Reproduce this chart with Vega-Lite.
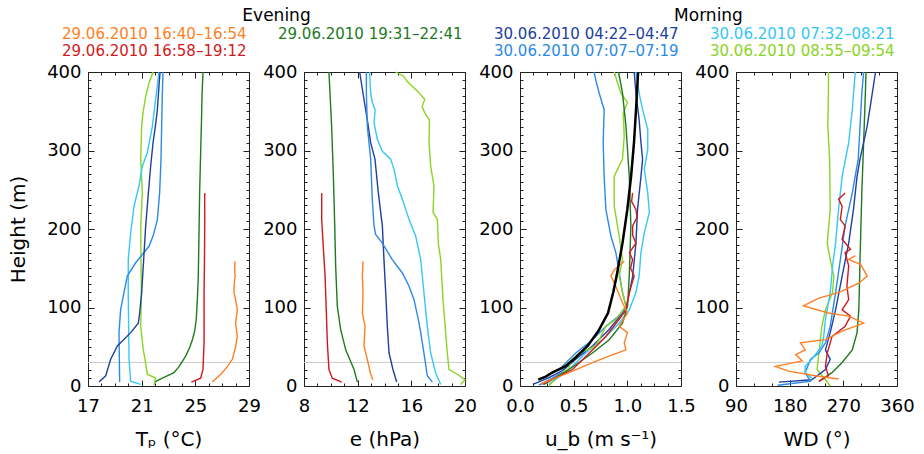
{
  "$schema": "https://vega.github.io/schema/vega-lite/v6.json",
  "background": "white",
  "padding": {"left": 8, "top": 6, "right": 9, "bottom": 5},
  "config": {
    "font": "DejaVu Sans",
    "view": {"stroke": "#222222", "strokeWidth": 1},
    "axis": {"domain": false, "grid": false, "tickColor": "#222222", "tickWidth": 1, "labelColor": "black", "titleColor": "black", "labelFont": "DejaVu Sans", "labelFontSize": 18, "titleFont": "DejaVu Sans", "titleFontSize": 20, "titleFontWeight": "normal", "labelOverlap": false, "labelFlush": false, "labelBound": false},
    "title": {"font": "DejaVu Sans", "fontSize": 17, "fontWeight": "normal", "color": "black", "anchor": "middle", "frame": "group", "offset": 38.5, "dx": 108},
    "line": {"strokeWidth": 1.4}
  },
  "datasets": {
    "tp": [
      {"s":"29.06.2010 16:40–16:54","h":5,"x":26.27},{"s":"29.06.2010 16:40–16:54","h":15,"x":26.9},{"s":"29.06.2010 16:40–16:54","h":25,"x":27.4},{"s":"29.06.2010 16:40–16:54","h":34,"x":27.76},{"s":"29.06.2010 16:40–16:54","h":50,"x":28.0},{"s":"29.06.2010 16:40–16:54","h":63,"x":28.13},{"s":"29.06.2010 16:40–16:54","h":80,"x":28.0},{"s":"29.06.2010 16:40–16:54","h":97,"x":28.13},{"s":"29.06.2010 16:40–16:54","h":110,"x":28.0},{"s":"29.06.2010 16:40–16:54","h":119,"x":27.88},{"s":"29.06.2010 16:40–16:54","h":130,"x":27.9},{"s":"29.06.2010 16:40–16:54","h":140,"x":27.96},{"s":"29.06.2010 16:40–16:54","h":150,"x":27.93},{"s":"29.06.2010 16:40–16:54","h":159,"x":27.96},
      {"s":"29.06.2010 16:58–19:12","h":5,"x":24.7},{"s":"29.06.2010 16:58–19:12","h":10,"x":25.4},{"s":"29.06.2010 16:58–19:12","h":21,"x":25.57},{"s":"29.06.2010 16:58–19:12","h":55,"x":25.65},{"s":"29.06.2010 16:58–19:12","h":119,"x":25.65},{"s":"29.06.2010 16:58–19:12","h":160,"x":25.68},{"s":"29.06.2010 16:58–19:12","h":204,"x":25.7},{"s":"29.06.2010 16:58–19:12","h":246,"x":25.7},
      {"s":"29.06.2010 19:31–22:41","h":5,"x":21.97},{"s":"29.06.2010 19:31–22:41","h":9,"x":22.42},{"s":"29.06.2010 19:31–22:41","h":13,"x":22.9},{"s":"29.06.2010 19:31–22:41","h":17,"x":23.41},{"s":"29.06.2010 19:31–22:41","h":25,"x":23.8},{"s":"29.06.2010 19:31–22:41","h":38,"x":24.28},{"s":"29.06.2010 19:31–22:41","h":50,"x":24.6},{"s":"29.06.2010 19:31–22:41","h":59,"x":24.78},{"s":"29.06.2010 19:31–22:41","h":70,"x":24.95},{"s":"29.06.2010 19:31–22:41","h":85,"x":25.07},{"s":"29.06.2010 19:31–22:41","h":110,"x":25.15},{"s":"29.06.2010 19:31–22:41","h":140,"x":25.22},{"s":"29.06.2010 19:31–22:41","h":200,"x":25.28},{"s":"29.06.2010 19:31–22:41","h":246,"x":25.32},{"s":"29.06.2010 19:31–22:41","h":300,"x":25.4},{"s":"29.06.2010 19:31–22:41","h":331,"x":25.45},{"s":"29.06.2010 19:31–22:41","h":370,"x":25.5},{"s":"29.06.2010 19:31–22:41","h":400,"x":25.57},
      {"s":"30.06.2010 08:55–09:54","h":1,"x":21.92},{"s":"30.06.2010 08:55–09:54","h":10,"x":22.04},{"s":"30.06.2010 08:55–09:54","h":15,"x":21.42},{"s":"30.06.2010 08:55–09:54","h":34,"x":21.25},{"s":"30.06.2010 08:55–09:54","h":46,"x":21.12},{"s":"30.06.2010 08:55–09:54","h":76,"x":20.93},{"s":"30.06.2010 08:55–09:54","h":119,"x":20.98},{"s":"30.06.2010 08:55–09:54","h":160,"x":20.95},{"s":"30.06.2010 08:55–09:54","h":204,"x":20.93},{"s":"30.06.2010 08:55–09:54","h":246,"x":21.05},{"s":"30.06.2010 08:55–09:54","h":289,"x":20.93},{"s":"30.06.2010 08:55–09:54","h":331,"x":21.0},{"s":"30.06.2010 08:55–09:54","h":348,"x":21.1},{"s":"30.06.2010 08:55–09:54","h":369,"x":21.3},{"s":"30.06.2010 08:55–09:54","h":386,"x":21.55},{"s":"30.06.2010 08:55–09:54","h":400,"x":21.85},
      {"s":"30.06.2010 07:32–08:21","h":2,"x":20.93},{"s":"30.06.2010 07:32–08:21","h":6,"x":20.18},{"s":"30.06.2010 07:32–08:21","h":34,"x":20.06},{"s":"30.06.2010 07:32–08:21","h":119,"x":20.0},{"s":"30.06.2010 07:32–08:21","h":161,"x":20.0},{"s":"30.06.2010 07:32–08:21","h":195,"x":20.18},{"s":"30.06.2010 07:32–08:21","h":229,"x":20.43},{"s":"30.06.2010 07:32–08:21","h":255,"x":20.8},{"s":"30.06.2010 07:32–08:21","h":280,"x":21.05},{"s":"30.06.2010 07:32–08:21","h":297,"x":21.42},{"s":"30.06.2010 07:32–08:21","h":331,"x":21.8},{"s":"30.06.2010 07:32–08:21","h":365,"x":22.04},{"s":"30.06.2010 07:32–08:21","h":400,"x":22.29},
      {"s":"30.06.2010 07:07–07:19","h":5,"x":19.36},{"s":"30.06.2010 07:07–07:19","h":68,"x":19.31},{"s":"30.06.2010 07:07–07:19","h":97,"x":19.43},{"s":"30.06.2010 07:07–07:19","h":119,"x":19.68},{"s":"30.06.2010 07:07–07:19","h":140,"x":19.93},{"s":"30.06.2010 07:07–07:19","h":157,"x":20.55},{"s":"30.06.2010 07:07–07:19","h":178,"x":21.55},{"s":"30.06.2010 07:07–07:19","h":191,"x":21.85},{"s":"30.06.2010 07:07–07:19","h":212,"x":22.17},{"s":"30.06.2010 07:07–07:19","h":246,"x":22.34},{"s":"30.06.2010 07:07–07:19","h":289,"x":22.44},{"s":"30.06.2010 07:07–07:19","h":331,"x":22.49},{"s":"30.06.2010 07:07–07:19","h":373,"x":22.54},{"s":"30.06.2010 07:07–07:19","h":400,"x":22.59},
      {"s":"30.06.2010 04:22–04:47","h":5,"x":17.82},{"s":"30.06.2010 04:22–04:47","h":13,"x":18.32},{"s":"30.06.2010 04:22–04:47","h":34,"x":18.69},{"s":"30.06.2010 04:22–04:47","h":51,"x":19.19},{"s":"30.06.2010 04:22–04:47","h":68,"x":20.18},{"s":"30.06.2010 04:22–04:47","h":80,"x":20.75},{"s":"30.06.2010 04:22–04:47","h":93,"x":20.85},{"s":"30.06.2010 04:22–04:47","h":119,"x":21.0},{"s":"30.06.2010 04:22–04:47","h":204,"x":21.3},{"s":"30.06.2010 04:22–04:47","h":246,"x":21.5},{"s":"30.06.2010 04:22–04:47","h":280,"x":21.67},{"s":"30.06.2010 04:22–04:47","h":310,"x":21.85},{"s":"30.06.2010 04:22–04:47","h":333,"x":22.04},{"s":"30.06.2010 04:22–04:47","h":352,"x":22.17},{"s":"30.06.2010 04:22–04:47","h":382,"x":22.29},{"s":"30.06.2010 04:22–04:47","h":400,"x":22.37}
    ],
    "e": [
      {"s":"29.06.2010 16:58–19:12","h":5,"x":10.81},{"s":"29.06.2010 16:58–19:12","h":10,"x":10.11},{"s":"29.06.2010 16:58–19:12","h":21,"x":9.86},{"s":"29.06.2010 16:58–19:12","h":55,"x":9.74},{"s":"29.06.2010 16:58–19:12","h":97,"x":9.66},{"s":"29.06.2010 16:58–19:12","h":140,"x":9.57},{"s":"29.06.2010 16:58–19:12","h":182,"x":9.42},{"s":"29.06.2010 16:58–19:12","h":212,"x":9.32},{"s":"29.06.2010 16:58–19:12","h":246,"x":9.32},
      {"s":"29.06.2010 19:31–22:41","h":5,"x":11.98},{"s":"29.06.2010 19:31–22:41","h":21,"x":11.73},{"s":"29.06.2010 19:31–22:41","h":46,"x":11.11},{"s":"29.06.2010 19:31–22:41","h":72,"x":10.73},{"s":"29.06.2010 19:31–22:41","h":102,"x":10.48},{"s":"29.06.2010 19:31–22:41","h":153,"x":10.36},{"s":"29.06.2010 19:31–22:41","h":204,"x":10.29},{"s":"29.06.2010 19:31–22:41","h":267,"x":10.19},{"s":"29.06.2010 19:31–22:41","h":331,"x":10.06},{"s":"29.06.2010 19:31–22:41","h":400,"x":9.86},
      {"s":"29.06.2010 16:40–16:54","h":8,"x":13.14},{"s":"29.06.2010 16:40–16:54","h":15,"x":12.97},{"s":"29.06.2010 16:40–16:54","h":34,"x":12.72},{"s":"29.06.2010 16:40–16:54","h":51,"x":12.47},{"s":"29.06.2010 16:40–16:54","h":76,"x":12.55},{"s":"29.06.2010 16:40–16:54","h":93,"x":12.35},{"s":"29.06.2010 16:40–16:54","h":119,"x":12.4},{"s":"29.06.2010 16:40–16:54","h":140,"x":12.35},{"s":"29.06.2010 16:40–16:54","h":159,"x":12.4},
      {"s":"30.06.2010 04:22–04:47","h":5,"x":14.91},{"s":"30.06.2010 04:22–04:47","h":21,"x":14.63},{"s":"30.06.2010 04:22–04:47","h":42,"x":14.34},{"s":"30.06.2010 04:22–04:47","h":76,"x":14.21},{"s":"30.06.2010 04:22–04:47","h":119,"x":14.09},{"s":"30.06.2010 04:22–04:47","h":161,"x":13.96},{"s":"30.06.2010 04:22–04:47","h":204,"x":13.84},{"s":"30.06.2010 04:22–04:47","h":246,"x":13.54},{"s":"30.06.2010 04:22–04:47","h":289,"x":13.29},{"s":"30.06.2010 04:22–04:47","h":310,"x":12.97},{"s":"30.06.2010 04:22–04:47","h":339,"x":12.72},{"s":"30.06.2010 04:22–04:47","h":365,"x":12.47},{"s":"30.06.2010 04:22–04:47","h":400,"x":12.15},
      {"s":"30.06.2010 07:07–07:19","h":5,"x":17.57},{"s":"30.06.2010 07:07–07:19","h":13,"x":17.19},{"s":"30.06.2010 07:07–07:19","h":42,"x":16.94},{"s":"30.06.2010 07:07–07:19","h":68,"x":16.7},{"s":"30.06.2010 07:07–07:19","h":85,"x":16.52},{"s":"30.06.2010 07:07–07:19","h":110,"x":16.2},{"s":"30.06.2010 07:07–07:19","h":127,"x":15.83},{"s":"30.06.2010 07:07–07:19","h":144,"x":15.33},{"s":"30.06.2010 07:07–07:19","h":161,"x":14.58},{"s":"30.06.2010 07:07–07:19","h":182,"x":13.84},{"s":"30.06.2010 07:07–07:19","h":193,"x":13.34},{"s":"30.06.2010 07:07–07:19","h":204,"x":13.22},{"s":"30.06.2010 07:07–07:19","h":238,"x":13.09},{"s":"30.06.2010 07:07–07:19","h":289,"x":12.97},{"s":"30.06.2010 07:07–07:19","h":331,"x":12.72},{"s":"30.06.2010 07:07–07:19","h":373,"x":12.65},{"s":"30.06.2010 07:07–07:19","h":400,"x":12.65},
      {"s":"30.06.2010 07:32–08:21","h":2,"x":18.19},{"s":"30.06.2010 07:32–08:21","h":17,"x":17.81},{"s":"30.06.2010 07:32–08:21","h":42,"x":17.44},{"s":"30.06.2010 07:32–08:21","h":76,"x":17.19},{"s":"30.06.2010 07:32–08:21","h":119,"x":16.94},{"s":"30.06.2010 07:32–08:21","h":161,"x":16.7},{"s":"30.06.2010 07:32–08:21","h":191,"x":16.32},{"s":"30.06.2010 07:32–08:21","h":212,"x":15.83},{"s":"30.06.2010 07:32–08:21","h":238,"x":15.33},{"s":"30.06.2010 07:32–08:21","h":255,"x":14.96},{"s":"30.06.2010 07:32–08:21","h":276,"x":14.71},{"s":"30.06.2010 07:32–08:21","h":289,"x":14.46},{"s":"30.06.2010 07:32–08:21","h":299,"x":13.84},{"s":"30.06.2010 07:32–08:21","h":314,"x":13.47},{"s":"30.06.2010 07:32–08:21","h":335,"x":13.22},{"s":"30.06.2010 07:32–08:21","h":352,"x":13.3},{"s":"30.06.2010 07:32–08:21","h":361,"x":13.09},{"s":"30.06.2010 07:32–08:21","h":373,"x":12.97},{"s":"30.06.2010 07:32–08:21","h":400,"x":12.89},
      {"s":"30.06.2010 08:55–09:54","h":2,"x":19.68},{"s":"30.06.2010 08:55–09:54","h":8,"x":20.0},{"s":"30.06.2010 08:55–09:54","h":15,"x":19.43},{"s":"30.06.2010 08:55–09:54","h":21,"x":18.81},{"s":"30.06.2010 08:55–09:54","h":42,"x":18.68},{"s":"30.06.2010 08:55–09:54","h":68,"x":18.56},{"s":"30.06.2010 08:55–09:54","h":110,"x":18.36},{"s":"30.06.2010 08:55–09:54","h":161,"x":18.19},{"s":"30.06.2010 08:55–09:54","h":182,"x":18.01},{"s":"30.06.2010 08:55–09:54","h":212,"x":17.94},{"s":"30.06.2010 08:55–09:54","h":221,"x":17.62},{"s":"30.06.2010 08:55–09:54","h":255,"x":17.69},{"s":"30.06.2010 08:55–09:54","h":280,"x":17.44},{"s":"30.06.2010 08:55–09:54","h":310,"x":17.32},{"s":"30.06.2010 08:55–09:54","h":339,"x":17.35},{"s":"30.06.2010 08:55–09:54","h":348,"x":17.0},{"s":"30.06.2010 08:55–09:54","h":356,"x":16.8},{"s":"30.06.2010 08:55–09:54","h":365,"x":17.0},{"s":"30.06.2010 08:55–09:54","h":375,"x":16.5},{"s":"30.06.2010 08:55–09:54","h":388,"x":15.7},{"s":"30.06.2010 08:55–09:54","h":395,"x":15.4},{"s":"30.06.2010 08:55–09:54","h":400,"x":14.83}
    ],
    "ub": [
      {"s":"30.06.2010 04:22–04:47","h":2,"x":0.12},{"s":"30.06.2010 04:22–04:47","h":10,"x":0.26},{"s":"30.06.2010 04:22–04:47","h":20,"x":0.4},{"s":"30.06.2010 04:22–04:47","h":34,"x":0.52},{"s":"30.06.2010 04:22–04:47","h":51,"x":0.675},{"s":"30.06.2010 04:22–04:47","h":72,"x":0.83},{"s":"30.06.2010 04:22–04:47","h":93,"x":0.955},{"s":"30.06.2010 04:22–04:47","h":106,"x":1.0},{"s":"30.06.2010 04:22–04:47","h":140,"x":1.05},{"s":"30.06.2010 04:22–04:47","h":182,"x":1.08},{"s":"30.06.2010 04:22–04:47","h":225,"x":1.095},{"s":"30.06.2010 04:22–04:47","h":267,"x":1.127},{"s":"30.06.2010 04:22–04:47","h":289,"x":1.142},{"s":"30.06.2010 04:22–04:47","h":310,"x":1.127},{"s":"30.06.2010 04:22–04:47","h":339,"x":1.11},{"s":"30.06.2010 04:22–04:47","h":373,"x":1.08},{"s":"30.06.2010 04:22–04:47","h":400,"x":1.064},
      {"s":"30.06.2010 07:07–07:19","h":1,"x":0.177},{"s":"30.06.2010 07:07–07:19","h":10,"x":0.3},{"s":"30.06.2010 07:07–07:19","h":17,"x":0.39},{"s":"30.06.2010 07:07–07:19","h":25,"x":0.395},{"s":"30.06.2010 07:07–07:19","h":42,"x":0.52},{"s":"30.06.2010 07:07–07:19","h":59,"x":0.675},{"s":"30.06.2010 07:07–07:19","h":76,"x":0.8},{"s":"30.06.2010 07:07–07:19","h":93,"x":0.955},{"s":"30.06.2010 07:07–07:19","h":102,"x":0.987},{"s":"30.06.2010 07:07–07:19","h":119,"x":0.955},{"s":"30.06.2010 07:07–07:19","h":170,"x":0.893},{"s":"30.06.2010 07:07–07:19","h":191,"x":0.847},{"s":"30.06.2010 07:07–07:19","h":225,"x":0.8},{"s":"30.06.2010 07:07–07:19","h":267,"x":0.784},{"s":"30.06.2010 07:07–07:19","h":310,"x":0.775},{"s":"30.06.2010 07:07–07:19","h":352,"x":0.784},{"s":"30.06.2010 07:07–07:19","h":373,"x":0.738},{"s":"30.06.2010 07:07–07:19","h":390,"x":0.706},{"s":"30.06.2010 07:07–07:19","h":400,"x":0.69},
      {"s":"30.06.2010 07:32–08:21","h":2,"x":0.27},{"s":"30.06.2010 07:32–08:21","h":21,"x":0.457},{"s":"30.06.2010 07:32–08:21","h":42,"x":0.613},{"s":"30.06.2010 07:32–08:21","h":59,"x":0.769},{"s":"30.06.2010 07:32–08:21","h":80,"x":0.924},{"s":"30.06.2010 07:32–08:21","h":97,"x":1.018},{"s":"30.06.2010 07:32–08:21","h":119,"x":1.08},{"s":"30.06.2010 07:32–08:21","h":140,"x":1.11},{"s":"30.06.2010 07:32–08:21","h":170,"x":1.127},{"s":"30.06.2010 07:32–08:21","h":195,"x":1.158},{"s":"30.06.2010 07:32–08:21","h":221,"x":1.205},{"s":"30.06.2010 07:32–08:21","h":246,"x":1.19},{"s":"30.06.2010 07:32–08:21","h":276,"x":1.158},{"s":"30.06.2010 07:32–08:21","h":301,"x":1.19},{"s":"30.06.2010 07:32–08:21","h":327,"x":1.19},{"s":"30.06.2010 07:32–08:21","h":352,"x":1.142},{"s":"30.06.2010 07:32–08:21","h":373,"x":1.11},{"s":"30.06.2010 07:32–08:21","h":400,"x":1.08},
      {"s":"30.06.2010 08:55–09:54","h":0,"x":0.27},{"s":"30.06.2010 08:55–09:54","h":10,"x":0.33},{"s":"30.06.2010 08:55–09:54","h":23,"x":0.457},{"s":"30.06.2010 08:55–09:54","h":32,"x":0.473},{"s":"30.06.2010 08:55–09:54","h":42,"x":0.55},{"s":"30.06.2010 08:55–09:54","h":47,"x":0.644},{"s":"30.06.2010 08:55–09:54","h":51,"x":0.7},{"s":"30.06.2010 08:55–09:54","h":59,"x":0.738},{"s":"30.06.2010 08:55–09:54","h":76,"x":0.8},{"s":"30.06.2010 08:55–09:54","h":85,"x":0.893},{"s":"30.06.2010 08:55–09:54","h":102,"x":0.987},{"s":"30.06.2010 08:55–09:54","h":119,"x":0.955},{"s":"30.06.2010 08:55–09:54","h":140,"x":0.924},{"s":"30.06.2010 08:55–09:54","h":161,"x":0.955},{"s":"30.06.2010 08:55–09:54","h":191,"x":0.924},{"s":"30.06.2010 08:55–09:54","h":229,"x":0.878},{"s":"30.06.2010 08:55–09:54","h":267,"x":0.878},{"s":"30.06.2010 08:55–09:54","h":289,"x":0.955},{"s":"30.06.2010 08:55–09:54","h":318,"x":0.971},{"s":"30.06.2010 08:55–09:54","h":348,"x":0.962},{"s":"30.06.2010 08:55–09:54","h":361,"x":1.002},{"s":"30.06.2010 08:55–09:54","h":373,"x":0.94},{"s":"30.06.2010 08:55–09:54","h":386,"x":0.909},{"s":"30.06.2010 08:55–09:54","h":400,"x":0.878},
      {"s":"29.06.2010 19:31–22:41","h":2,"x":0.224},{"s":"29.06.2010 19:31–22:41","h":21,"x":0.457},{"s":"29.06.2010 19:31–22:41","h":42,"x":0.675},{"s":"29.06.2010 19:31–22:41","h":59,"x":0.831},{"s":"29.06.2010 19:31–22:41","h":80,"x":0.955},{"s":"29.06.2010 19:31–22:41","h":102,"x":1.002},{"s":"29.06.2010 19:31–22:41","h":140,"x":1.018},{"s":"29.06.2010 19:31–22:41","h":204,"x":1.033},{"s":"29.06.2010 19:31–22:41","h":267,"x":1.018},{"s":"29.06.2010 19:31–22:41","h":331,"x":0.987},{"s":"29.06.2010 19:31–22:41","h":373,"x":0.955},{"s":"29.06.2010 19:31–22:41","h":400,"x":0.918},
      {"s":"29.06.2010 16:58–19:12","h":2,"x":0.209},{"s":"29.06.2010 16:58–19:12","h":21,"x":0.489},{"s":"29.06.2010 16:58–19:12","h":46,"x":0.675},{"s":"29.06.2010 16:58–19:12","h":63,"x":0.8},{"s":"29.06.2010 16:58–19:12","h":85,"x":0.924},{"s":"29.06.2010 16:58–19:12","h":97,"x":0.987},{"s":"29.06.2010 16:58–19:12","h":119,"x":1.018},{"s":"29.06.2010 16:58–19:12","h":140,"x":1.064},{"s":"29.06.2010 16:58–19:12","h":150,"x":1.03},{"s":"29.06.2010 16:58–19:12","h":161,"x":1.049},{"s":"29.06.2010 16:58–19:12","h":170,"x":1.02},{"s":"29.06.2010 16:58–19:12","h":182,"x":1.08},{"s":"29.06.2010 16:58–19:12","h":192,"x":1.05},{"s":"29.06.2010 16:58–19:12","h":204,"x":1.049},{"s":"29.06.2010 16:58–19:12","h":215,"x":1.09},{"s":"29.06.2010 16:58–19:12","h":225,"x":1.08},{"s":"29.06.2010 16:58–19:12","h":235,"x":1.04},{"s":"29.06.2010 16:58–19:12","h":246,"x":1.049},
      {"s":"29.06.2010 16:40–16:54","h":3,"x":0.2},{"s":"29.06.2010 16:40–16:54","h":17,"x":0.457},{"s":"29.06.2010 16:40–16:54","h":30,"x":0.68},{"s":"29.06.2010 16:40–16:54","h":38,"x":0.83},{"s":"29.06.2010 16:40–16:54","h":46,"x":0.987},{"s":"29.06.2010 16:40–16:54","h":55,"x":0.971},{"s":"29.06.2010 16:40–16:54","h":68,"x":1.002},{"s":"29.06.2010 16:40–16:54","h":76,"x":0.924},{"s":"29.06.2010 16:40–16:54","h":93,"x":1.002},{"s":"29.06.2010 16:40–16:54","h":106,"x":0.955},{"s":"29.06.2010 16:40–16:54","h":127,"x":0.893},{"s":"29.06.2010 16:40–16:54","h":140,"x":0.847},{"s":"29.06.2010 16:40–16:54","h":148,"x":0.878},{"s":"29.06.2010 16:40–16:54","h":159,"x":0.971}
    ],
    "fit": [
      {"h":8,"x":0.17},{"h":12,"x":0.24},{"h":17,"x":0.3},{"h":25,"x":0.42},{"h":34,"x":0.5},{"h":51,"x":0.63},{"h":70,"x":0.73},{"h":93,"x":0.82},{"h":120,"x":0.87},{"h":140,"x":0.9},{"h":182,"x":0.955},{"h":225,"x":1.0},{"h":267,"x":1.035},{"h":310,"x":1.062},{"h":350,"x":1.08},{"h":399,"x":1.1}
    ],
    "wd": [
      {"s":"30.06.2010 08:55–09:54","h":0,"x":248},{"s":"30.06.2010 08:55–09:54","h":8,"x":240},{"s":"30.06.2010 08:55–09:54","h":21,"x":226},{"s":"30.06.2010 08:55–09:54","h":42,"x":229},{"s":"30.06.2010 08:55–09:54","h":76,"x":234},{"s":"30.06.2010 08:55–09:54","h":97,"x":240},{"s":"30.06.2010 08:55–09:54","h":119,"x":252},{"s":"30.06.2010 08:55–09:54","h":140,"x":254},{"s":"30.06.2010 08:55–09:54","h":161,"x":248},{"s":"30.06.2010 08:55–09:54","h":182,"x":243},{"s":"30.06.2010 08:55–09:54","h":225,"x":248},{"s":"30.06.2010 08:55–09:54","h":289,"x":247},{"s":"30.06.2010 08:55–09:54","h":331,"x":244},{"s":"30.06.2010 08:55–09:54","h":373,"x":245},{"s":"30.06.2010 08:55–09:54","h":400,"x":245},
      {"s":"29.06.2010 19:31–22:41","h":6,"x":229},{"s":"29.06.2010 19:31–22:41","h":17,"x":251},{"s":"29.06.2010 19:31–22:41","h":30,"x":268},{"s":"29.06.2010 19:31–22:41","h":46,"x":285},{"s":"29.06.2010 19:31–22:41","h":68,"x":293},{"s":"29.06.2010 19:31–22:41","h":97,"x":296},{"s":"29.06.2010 19:31–22:41","h":161,"x":298},{"s":"29.06.2010 19:31–22:41","h":246,"x":301},{"s":"29.06.2010 19:31–22:41","h":310,"x":304},{"s":"29.06.2010 19:31–22:41","h":373,"x":307},{"s":"29.06.2010 19:31–22:41","h":400,"x":308},
      {"s":"30.06.2010 04:22–04:47","h":5,"x":162},{"s":"30.06.2010 04:22–04:47","h":8,"x":217},{"s":"30.06.2010 04:22–04:47","h":21,"x":240},{"s":"30.06.2010 04:22–04:47","h":34,"x":248},{"s":"30.06.2010 04:22–04:47","h":46,"x":240},{"s":"30.06.2010 04:22–04:47","h":68,"x":248},{"s":"30.06.2010 04:22–04:47","h":97,"x":257},{"s":"30.06.2010 04:22–04:47","h":140,"x":268},{"s":"30.06.2010 04:22–04:47","h":182,"x":279},{"s":"30.06.2010 04:22–04:47","h":225,"x":287},{"s":"30.06.2010 04:22–04:47","h":267,"x":293},{"s":"30.06.2010 04:22–04:47","h":289,"x":298},{"s":"30.06.2010 04:22–04:47","h":331,"x":310},{"s":"30.06.2010 04:22–04:47","h":365,"x":317},{"s":"30.06.2010 04:22–04:47","h":400,"x":324},
      {"s":"30.06.2010 07:07–07:19","h":1,"x":160},{"s":"30.06.2010 07:07–07:19","h":6,"x":215},{"s":"30.06.2010 07:07–07:19","h":17,"x":206},{"s":"30.06.2010 07:07–07:19","h":34,"x":215},{"s":"30.06.2010 07:07–07:19","h":42,"x":229},{"s":"30.06.2010 07:07–07:19","h":55,"x":240},{"s":"30.06.2010 07:07–07:19","h":76,"x":248},{"s":"30.06.2010 07:07–07:19","h":119,"x":257},{"s":"30.06.2010 07:07–07:19","h":161,"x":265},{"s":"30.06.2010 07:07–07:19","h":204,"x":273},{"s":"30.06.2010 07:07–07:19","h":246,"x":285},{"s":"30.06.2010 07:07–07:19","h":289,"x":295},{"s":"30.06.2010 07:07–07:19","h":331,"x":298},{"s":"30.06.2010 07:07–07:19","h":373,"x":301},{"s":"30.06.2010 07:07–07:19","h":400,"x":304},
      {"s":"30.06.2010 07:32–08:21","h":10,"x":217},{"s":"30.06.2010 07:32–08:21","h":17,"x":206},{"s":"30.06.2010 07:32–08:21","h":25,"x":206},{"s":"30.06.2010 07:32–08:21","h":34,"x":217},{"s":"30.06.2010 07:32–08:21","h":51,"x":234},{"s":"30.06.2010 07:32–08:21","h":63,"x":237},{"s":"30.06.2010 07:32–08:21","h":85,"x":240},{"s":"30.06.2010 07:32–08:21","h":119,"x":248},{"s":"30.06.2010 07:32–08:21","h":153,"x":252},{"s":"30.06.2010 07:32–08:21","h":182,"x":257},{"s":"30.06.2010 07:32–08:21","h":225,"x":262},{"s":"30.06.2010 07:32–08:21","h":267,"x":268},{"s":"30.06.2010 07:32–08:21","h":310,"x":279},{"s":"30.06.2010 07:32–08:21","h":352,"x":285},{"s":"30.06.2010 07:32–08:21","h":400,"x":290},
      {"s":"29.06.2010 16:58–19:12","h":6,"x":229},{"s":"29.06.2010 16:58–19:12","h":13,"x":245},{"s":"29.06.2010 16:58–19:12","h":25,"x":240},{"s":"29.06.2010 16:58–19:12","h":42,"x":243},{"s":"29.06.2010 16:58–19:12","h":63,"x":251},{"s":"29.06.2010 16:58–19:12","h":76,"x":273},{"s":"29.06.2010 16:58–19:12","h":89,"x":282},{"s":"29.06.2010 16:58–19:12","h":97,"x":268},{"s":"29.06.2010 16:58–19:12","h":110,"x":279},{"s":"29.06.2010 16:58–19:12","h":127,"x":276},{"s":"29.06.2010 16:58–19:12","h":153,"x":279},{"s":"29.06.2010 16:58–19:12","h":170,"x":273},{"s":"29.06.2010 16:58–19:12","h":174,"x":282},{"s":"29.06.2010 16:58–19:12","h":187,"x":268},{"s":"29.06.2010 16:58–19:12","h":204,"x":273},{"s":"29.06.2010 16:58–19:12","h":212,"x":265},{"s":"29.06.2010 16:58–19:12","h":229,"x":268},{"s":"29.06.2010 16:58–19:12","h":238,"x":262},{"s":"29.06.2010 16:58–19:12","h":246,"x":273},
      {"s":"29.06.2010 16:40–16:54","h":9,"x":262},{"s":"29.06.2010 16:40–16:54","h":13,"x":223},{"s":"29.06.2010 16:40–16:54","h":19,"x":178},{"s":"29.06.2010 16:40–16:54","h":25,"x":156},{"s":"29.06.2010 16:40–16:54","h":32,"x":201},{"s":"29.06.2010 16:40–16:54","h":40,"x":190},{"s":"29.06.2010 16:40–16:54","h":46,"x":206},{"s":"29.06.2010 16:40–16:54","h":55,"x":198},{"s":"29.06.2010 16:40–16:54","h":59,"x":240},{"s":"29.06.2010 16:40–16:54","h":70,"x":268},{"s":"29.06.2010 16:40–16:54","h":80,"x":304},{"s":"29.06.2010 16:40–16:54","h":89,"x":279},{"s":"29.06.2010 16:40–16:54","h":93,"x":245},{"s":"29.06.2010 16:40–16:54","h":102,"x":203},{"s":"29.06.2010 16:40–16:54","h":112,"x":229},{"s":"29.06.2010 16:40–16:54","h":119,"x":262},{"s":"29.06.2010 16:40–16:54","h":131,"x":296},{"s":"29.06.2010 16:40–16:54","h":140,"x":310},{"s":"29.06.2010 16:40–16:54","h":155,"x":299},{"s":"29.06.2010 16:40–16:54","h":161,"x":279},{"s":"29.06.2010 16:40–16:54","h":166,"x":290}
    ]
  },
  "spacing": 55,
  "bounds": "flush",
  "hconcat": [
    {
      "title": {"text": "Evening"},
      "width": 161, "height": 314,
      "resolve": {"axis": {"x": "independent", "y": "independent"}},
      "layer": [
        {
          "data": {"values": [{}]},
          "mark": {"type": "rule", "color": "#cccccc", "strokeWidth": 1},
          "encoding": {
            "x": {"datum": 17, "type": "quantitative", "scale": {"domain": [17, 29], "nice": false, "zero": false},
                  "axis": {"orient": "top", "values": [17,18,19,20,21,22,23,24,25,26,27,28,29], "labels": false, "title": null, "tickSize": {"condition": {"test": "(datum.value - 17) % 4 === 0", "value": -6}, "value": -3}}},
            "x2": {"datum": 29},
            "y": {"datum": 30, "type": "quantitative", "scale": {"domain": [0, 400], "nice": false},
                  "axis": {"orient": "right", "values": [0,10,20,30,40,50,60,70,80,90,100,110,120,130,140,150,160,170,180,190,200,210,220,230,240,250,260,270,280,290,300,310,320,330,340,350,360,370,380,390,400], "labels": false, "title": null, "tickSize": {"condition": {"test": "datum.value % 100 === 0", "value": -6}, "value": -3}}}
          }
        },
        {
          "data": {"name": "tp"},
          "mark": {"type": "line", "strokeWidth": 1.4},
          "encoding": {
            "x": {"field": "x", "type": "quantitative", "scale": {"domain": [17, 29], "nice": false, "zero": false},
                  "axis": {"orient": "bottom", "values": [17,18,19,20,21,22,23,24,25,26,27,28,29], "format": "d", "labelExpr": "(datum.value - 17) % 4 === 0 ? datum.label : ''", "tickSize": {"condition": {"test": "(datum.value - 17) % 4 === 0", "value": -6}, "value": -3}, "labelPadding": 17.5, "title": "Tₚ (°C)", "titlePadding": 11}},
            "y": {"field": "h", "type": "quantitative", "scale": {"domain": [0, 400], "nice": false},
                  "axis": {"orient": "left", "values": [0,10,20,30,40,50,60,70,80,90,100,110,120,130,140,150,160,170,180,190,200,210,220,230,240,250,260,270,280,290,300,310,320,330,340,350,360,370,380,390,400], "format": "d", "labelExpr": "datum.value % 100 === 0 ? datum.label : ''", "tickSize": {"condition": {"test": "datum.value % 100 === 0", "value": -6}, "value": -3}, "labelPadding": 13, "title": "Height (m)", "titlePadding": 18}},
            "color": {"field": "s", "type": "nominal",
                      "scale": {"domain": ["29.06.2010 16:40–16:54", "29.06.2010 16:58–19:12", "29.06.2010 19:31–22:41", " ", "30.06.2010 04:22–04:47", "30.06.2010 07:07–07:19", "30.06.2010 07:32–08:21", "30.06.2010 08:55–09:54"],
                                "range": ["#ff7f24", "#d2191e", "#1e7a1e", "#ffffff", "#2040a0", "#2b8ae6", "#35c8f5", "#8ad424"]},
                      "legend": {"orient": "none", "legendX": -41, "legendY": -46, "columns": 4, "columnPadding": 16, "rowPadding": 1, "title": null, "symbolSize": 0, "symbolStrokeWidth": 0, "symbolOpacity": 0, "labelOffset": 0, "labelFont": "DejaVu Sans", "labelFontSize": 15, "labelLimit": 0, "labelColor": {"expr": "scale('color', datum.value)"}}},
            "order": {"field": "h", "type": "quantitative"}
          }
        }
      ]
    },
    {
      "width": 161, "height": 314,
      "resolve": {"axis": {"x": "independent", "y": "independent"}},
      "layer": [
        {
          "data": {"values": [{}]},
          "mark": {"type": "rule", "color": "#cccccc", "strokeWidth": 1},
          "encoding": {
            "x": {"datum": 8, "type": "quantitative", "scale": {"domain": [8, 20], "nice": false, "zero": false},
                  "axis": {"orient": "top", "values": [8,9,10,11,12,13,14,15,16,17,18,19,20], "labels": false, "title": null, "tickSize": {"condition": {"test": "datum.value % 4 === 0", "value": -6}, "value": -3}}},
            "x2": {"datum": 20},
            "y": {"datum": 30, "type": "quantitative", "scale": {"domain": [0, 400], "nice": false},
                  "axis": {"orient": "right", "values": [0,10,20,30,40,50,60,70,80,90,100,110,120,130,140,150,160,170,180,190,200,210,220,230,240,250,260,270,280,290,300,310,320,330,340,350,360,370,380,390,400], "labels": false, "title": null, "tickSize": {"condition": {"test": "datum.value % 100 === 0", "value": -6}, "value": -3}}}
          }
        },
        {
          "data": {"name": "e"},
          "mark": {"type": "line", "strokeWidth": 1.4},
          "encoding": {
            "x": {"field": "x", "type": "quantitative", "scale": {"domain": [8, 20], "nice": false, "zero": false},
                  "axis": {"orient": "bottom", "values": [8,9,10,11,12,13,14,15,16,17,18,19,20], "format": "d", "labelExpr": "datum.value % 4 === 0 ? datum.label : ''", "tickSize": {"condition": {"test": "datum.value % 4 === 0", "value": -6}, "value": -3}, "labelPadding": 17.5, "title": "e (hPa)", "titlePadding": 11}},
            "y": {"field": "h", "type": "quantitative", "scale": {"domain": [0, 400], "nice": false},
                  "axis": {"orient": "left", "values": [0,10,20,30,40,50,60,70,80,90,100,110,120,130,140,150,160,170,180,190,200,210,220,230,240,250,260,270,280,290,300,310,320,330,340,350,360,370,380,390,400], "format": "d", "labelExpr": "datum.value % 100 === 0 ? datum.label : ''", "tickSize": {"condition": {"test": "datum.value % 100 === 0", "value": -6}, "value": -3}, "labelPadding": 13, "title": null}},
            "color": {"field": "s", "type": "nominal"},
            "order": {"field": "h", "type": "quantitative"}
          }
        }
      ]
    },
    {
      "title": {"text": "Morning"},
      "width": 161, "height": 314,
      "resolve": {"axis": {"x": "independent", "y": "independent"}},
      "layer": [
        {
          "data": {"values": [{}]},
          "mark": {"type": "rule", "color": "#cccccc", "strokeWidth": 1},
          "encoding": {
            "x": {"datum": 0, "type": "quantitative", "scale": {"domain": [0, 1.5], "nice": false, "zero": false},
                  "axis": {"orient": "top", "values": [0,0.125,0.25,0.375,0.5,0.625,0.75,0.875,1,1.125,1.25,1.375,1.5], "labels": false, "title": null, "tickSize": {"condition": {"test": "datum.value % 0.5 === 0", "value": -6}, "value": -3}}},
            "x2": {"datum": 1.5},
            "y": {"datum": 30, "type": "quantitative", "scale": {"domain": [0, 400], "nice": false},
                  "axis": {"orient": "right", "values": [0,10,20,30,40,50,60,70,80,90,100,110,120,130,140,150,160,170,180,190,200,210,220,230,240,250,260,270,280,290,300,310,320,330,340,350,360,370,380,390,400], "labels": false, "title": null, "tickSize": {"condition": {"test": "datum.value % 100 === 0", "value": -6}, "value": -3}}}
          }
        },
        {
          "data": {"name": "ub"},
          "mark": {"type": "line", "strokeWidth": 1.4},
          "encoding": {
            "x": {"field": "x", "type": "quantitative", "scale": {"domain": [0, 1.5], "nice": false, "zero": false},
                  "axis": {"orient": "bottom", "values": [0,0.125,0.25,0.375,0.5,0.625,0.75,0.875,1,1.125,1.25,1.375,1.5], "format": ".1f", "labelExpr": "datum.value % 0.5 === 0 ? datum.label : ''", "tickSize": {"condition": {"test": "datum.value % 0.5 === 0", "value": -6}, "value": -3}, "labelPadding": 17.5, "title": "u_b (m s⁻¹)", "titlePadding": 11}},
            "y": {"field": "h", "type": "quantitative", "scale": {"domain": [0, 400], "nice": false},
                  "axis": {"orient": "left", "values": [0,10,20,30,40,50,60,70,80,90,100,110,120,130,140,150,160,170,180,190,200,210,220,230,240,250,260,270,280,290,300,310,320,330,340,350,360,370,380,390,400], "format": "d", "labelExpr": "datum.value % 100 === 0 ? datum.label : ''", "tickSize": {"condition": {"test": "datum.value % 100 === 0", "value": -6}, "value": -3}, "labelPadding": 13, "title": null}},
            "color": {"field": "s", "type": "nominal"},
            "order": {"field": "h", "type": "quantitative"}
          }
        },
        {
          "data": {"name": "fit"},
          "mark": {"type": "line", "color": "black", "strokeWidth": 2.5},
          "encoding": {
            "x": {"field": "x", "type": "quantitative", "axis": null},
            "y": {"field": "h", "type": "quantitative", "axis": null},
            "order": {"field": "h", "type": "quantitative"}
          }
        }
      ]
    },
    {
      "width": 161, "height": 314,
      "resolve": {"axis": {"x": "independent", "y": "independent"}},
      "layer": [
        {
          "data": {"values": [{}]},
          "mark": {"type": "rule", "color": "#cccccc", "strokeWidth": 1},
          "encoding": {
            "x": {"datum": 90, "type": "quantitative", "scale": {"domain": [90, 360], "nice": false, "zero": false},
                  "axis": {"orient": "top", "values": [90,120,150,180,210,240,270,300,330,360], "labels": false, "title": null, "tickSize": {"condition": {"test": "datum.value % 90 === 0", "value": -6}, "value": -3}}},
            "x2": {"datum": 360},
            "y": {"datum": 30, "type": "quantitative", "scale": {"domain": [0, 400], "nice": false},
                  "axis": {"orient": "right", "values": [0,10,20,30,40,50,60,70,80,90,100,110,120,130,140,150,160,170,180,190,200,210,220,230,240,250,260,270,280,290,300,310,320,330,340,350,360,370,380,390,400], "labels": false, "title": null, "tickSize": {"condition": {"test": "datum.value % 100 === 0", "value": -6}, "value": -3}}}
          }
        },
        {
          "data": {"name": "wd"},
          "mark": {"type": "line", "strokeWidth": 1.4},
          "encoding": {
            "x": {"field": "x", "type": "quantitative", "scale": {"domain": [90, 360], "nice": false, "zero": false},
                  "axis": {"orient": "bottom", "values": [90,120,150,180,210,240,270,300,330,360], "format": "d", "labelExpr": "datum.value % 90 === 0 ? datum.label : ''", "tickSize": {"condition": {"test": "datum.value % 90 === 0", "value": -6}, "value": -3}, "labelPadding": 17.5, "title": "WD (°)", "titlePadding": 11}},
            "y": {"field": "h", "type": "quantitative", "scale": {"domain": [0, 400], "nice": false},
                  "axis": {"orient": "left", "values": [0,10,20,30,40,50,60,70,80,90,100,110,120,130,140,150,160,170,180,190,200,210,220,230,240,250,260,270,280,290,300,310,320,330,340,350,360,370,380,390,400], "format": "d", "labelExpr": "datum.value % 100 === 0 ? datum.label : ''", "tickSize": {"condition": {"test": "datum.value % 100 === 0", "value": -6}, "value": -3}, "labelPadding": 13, "title": null}},
            "color": {"field": "s", "type": "nominal"},
            "order": {"field": "h", "type": "quantitative"}
          }
        }
      ]
    }
  ]
}
